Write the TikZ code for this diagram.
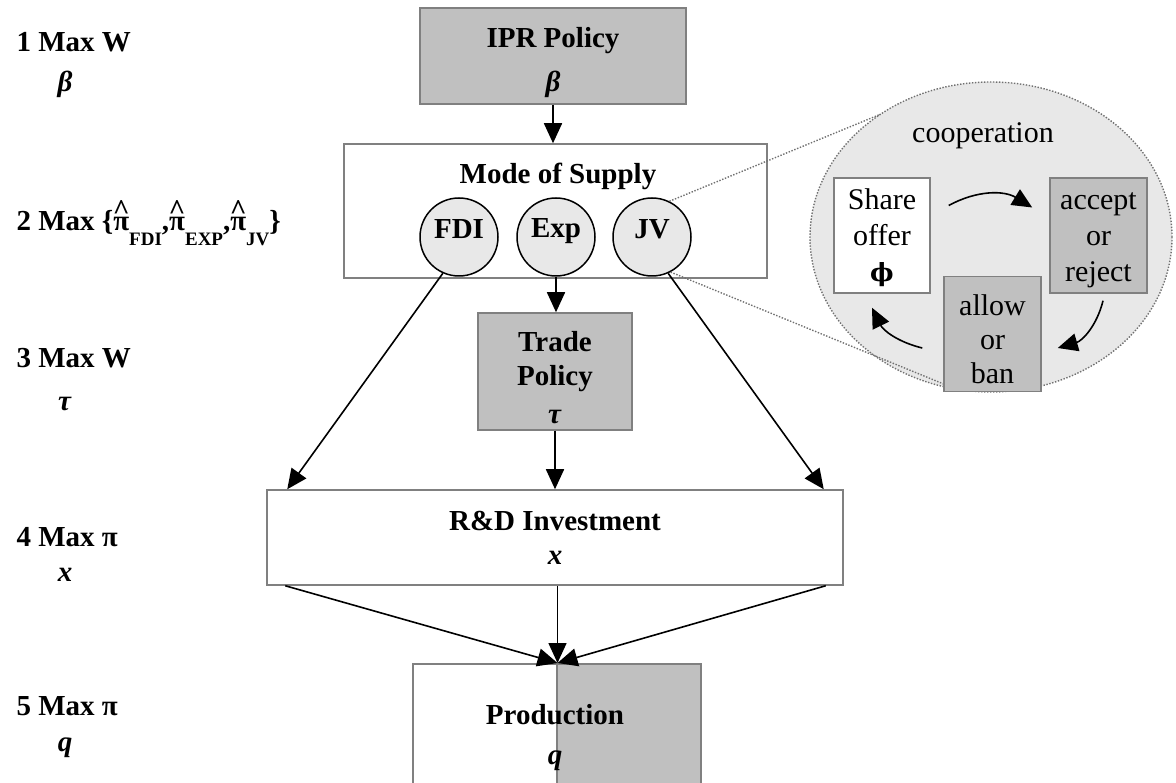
\documentclass[tikz,border=0pt]{standalone}
\usepackage{fontspec}
\setmainfont{Liberation Serif}
\newfontfamily\dvs{DejaVu Serif}
\usetikzlibrary{arrows.meta,shapes.geometric}
\definecolor{boxgray}{HTML}{C0C0C0}
\definecolor{edgegray}{HTML}{808080}
\definecolor{lightfill}{HTML}{E8E8E8}
\definecolor{dotgray}{HTML}{707070}
\newcommand{\hpi}{\ooalign{π\cr\hidewidth\raisebox{0.4em}{\textasciicircum}\hidewidth\cr}}
\newcommand{\lowsub}[1]{\raisebox{-0.5em}{\fontsize{19}{19}\selectfont #1}}
\begin{document}
\begin{tikzpicture}[x=1pt,y=1pt,
  every node/.style={font=\fontsize{29}{34}\selectfont},
  bf/.style={font=\fontsize{29}{34}\selectfont\bfseries},
  rm/.style={font=\fontsize{30}{36}\selectfont},
  graybox/.style={draw=edgegray, fill=boxgray, line width=1.5pt, inner sep=0pt, align=center},
  whitebox/.style={draw=edgegray, fill=white, line width=1.5pt, inner sep=0pt, align=center},
  modecirc/.style={circle, draw=black, fill=lightfill, line width=1.5pt, minimum size=78pt, inner sep=0pt},
  arr/.style={-{Triangle[length=20pt,width=18pt]}, line width=1.6pt},
  dots/.style={draw=dotgray, line width=1.4pt, dash pattern=on 1.4pt off 1.6pt},
]
\path[use as bounding box, clip] (0,0) rectangle (1176,-783);

% left labels
\node[bf, anchor=west] (l1) at (13,-42) {1 Max W};
\node[bf] (l1v) at (65,-84) {\textit{β}};
\node[bf, anchor=west] (l2) at (13,-228) {2 Max \{\hpi\lowsub{FDI},\hpi\lowsub{EXP},\hpi\lowsub{JV}\}};
\node[bf, anchor=west] (l3) at (13,-358) {3 Max W};
\node[bf] (l3v) at (65,-404) {\textit{τ}};
\node[bf, anchor=west] (l4) at (13,-537) {4 Max π};
\node[bf] (l4v) at (65,-575) {\textit{x}};
\node[bf, anchor=west] (l5) at (13,-706) {5 Max π};
\node[bf] (l5v) at (65,-748) {\textit{q}};

% main boxes
\node[graybox, minimum width=266pt, minimum height=96pt] (ipr) at (553,-56) {};
\node[bf, align=center] (iprtext) at (553,-63) {IPR Policy\\[10pt]\textit{β}};
\node[whitebox, minimum width=423pt, minimum height=134pt] (mode) at (555.5,-211) {};
\node[bf] (modetitle) at (558,-176) {Mode of Supply};
\node[modecirc, label={[bf, yshift=8pt]center:FDI}] (fdi) at (459,-237) {};
\node[modecirc, label={[bf, yshift=6pt]center:Exp}] (exp) at (556,-237) {};
\node[modecirc, label={[bf, yshift=8pt]center:JV}] (jv) at (652,-237) {};
\node[graybox, minimum width=154pt, minimum height=117pt] (trade) at (555,-371.5) {};
\node[bf, align=center] (tradetext) at (555,-377.5) {Trade\\Policy\\[4pt]\textit{τ}};
\node[whitebox, bf, minimum width=576pt, minimum height=95pt] (rd) at (555,-537.5) {R\&D Investment\\\textit{x}};
\node[whitebox, minimum width=144pt, minimum height=140pt, anchor=north west] (prodL) at (412,-663) {};
\node[graybox, minimum width=144pt, minimum height=140pt, anchor=north west] (prodR) at (556,-663) {};
\node[bf, align=center] (prodtext) at (555,-738) {Production\\[6pt]\textit{q}};

% cooperation ellipse
\node[ellipse, dots, fill=lightfill, minimum width=362pt, minimum height=310pt, inner sep=0pt, outer sep=0pt] (coop) at (991,-237) {};
\draw[dots] (jv.64) -- (coop.132);
\draw[dots] (jv.-62) -- (coop.257);
\node[rm] (cooptitle) at (983,-136) {cooperation};
\node[whitebox, minimum width=96pt, minimum height=115pt] (share) at (882,-235.5) {};
\node[rm, align=center] (sharetext) at (882,-238) {Share\\offer\\{\dvs\bfseries\fontsize{25}{36}\selectfont ϕ}};
\node[graybox, minimum width=97pt, minimum height=115pt] (accept) at (1098.5,-235.5) {};
\node[rm, align=center] (accepttext) at (1098.5,-240) {accept\\or\\reject};
\node[graybox, minimum width=97pt, minimum height=115pt] (allow) at (992.5,-334) {};
\node[align=center, font=\fontsize{30}{34}\selectfont] (allowtext) at (992.5,-339) {allow\\or\\ban};
\draw[arr] ([xshift=18pt,yshift=30pt]share.east) to[bend left=30] ([xshift=-17pt,yshift=28pt]accept.west);
\draw[arr] ([xshift=4.5pt,yshift=-7pt]accept.south) to[bend left=30] ([xshift=16pt,yshift=-14pt]allow.east);
\draw[arr] ([xshift=-21pt,yshift=-14pt]allow.west) to[bend left=25] ([xshift=-10pt,yshift=-14pt]share.south);

% connectors
\draw[arr] (ipr.south) -- (ipr.south |- mode.north);
\draw[arr] (fdi.-114) -- ([xshift=21pt]rd.north west);
\draw[arr] (exp.south) -- (exp.south |- trade.north);
\draw[arr] (jv.-66) -- ([xshift=-20pt]rd.north east);
\draw[arr] (trade.south) -- (trade.south |- rd.north);
\draw[arr] ([xshift=19pt]rd.south west) -- (prodL.north east);
\draw[arr] (rd.south -| prodL.north east) -- (prodL.north east);
\draw[arr] ([xshift=-18pt]rd.south east) -- (prodL.north east);
\end{tikzpicture}
\end{document}
